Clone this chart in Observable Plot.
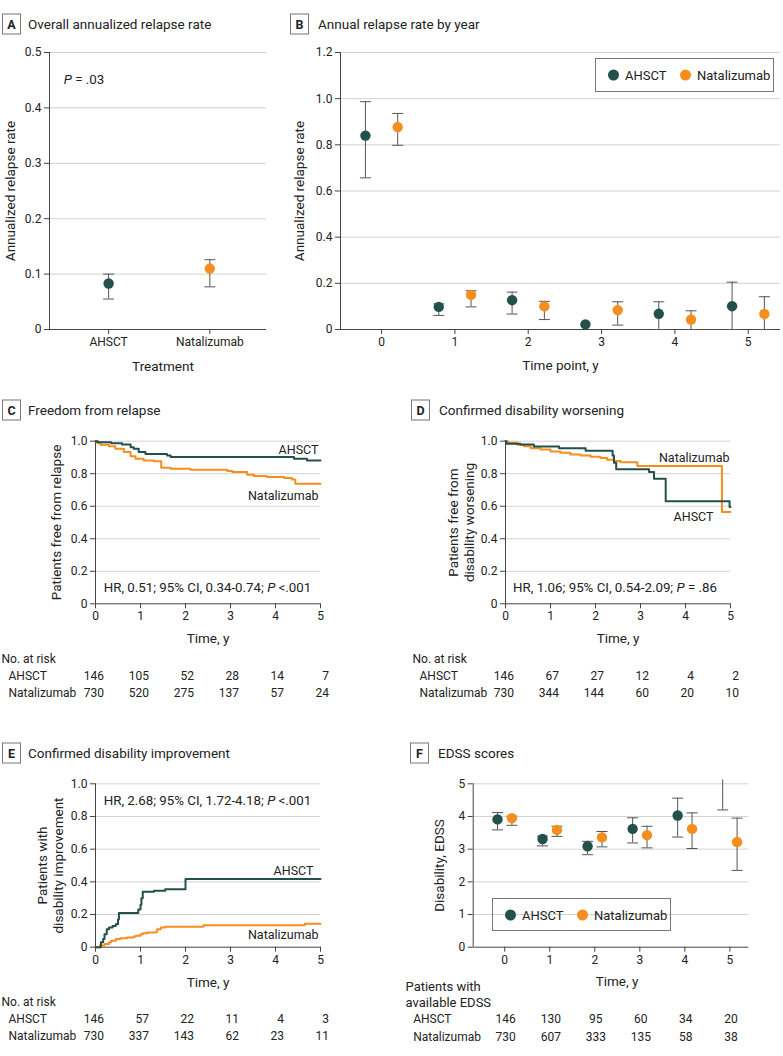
<!DOCTYPE html>
<html><head><meta charset="utf-8">
<script src="https://cdn.jsdelivr.net/npm/d3@7"></script>
<script src="https://cdn.jsdelivr.net/npm/@observablehq/plot@0.6"></script>
<style>
body{margin:0;background:#fff;font-family:Roboto,"Noto Sans",sans-serif;color:#222;}
#root{position:relative;width:783px;height:1056px;overflow:hidden;}
.svgwrap{position:absolute;}
.ttl{position:absolute;font-size:13.5px;white-space:nowrap;transform:translateY(-50%);}
.box{position:absolute;width:17px;height:19px;border:1px solid #777;font-weight:bold;font-size:12.5px;display:flex;align-items:center;justify-content:center;transform:translateY(-50%);}
.ann{position:absolute;font-size:13.3px;white-space:nowrap;transform:translate(-50%,-50%);}
.legend{position:absolute;border:1px solid #777;box-sizing:border-box;font-size:13px;}
.legend .d{display:inline-block;width:11px;height:11px;border-radius:50%;margin-right:6px;}
.legend span.it{display:flex;align-items:center;}
</style></head>
<body><div id="root"></div>
<script>
// ---------- DATA ----------
const groups = ["AHSCT", "Natalizumab"];
const colors = ["#22504b", "#f68d1f"];

// Panel A: overall annualized relapse rate
const arrRate = [0.083, 0.110];
const arrLo = [0.055, 0.077];
const arrHi = [0.100, 0.126];

// Panel B: annual relapse rate by year
const years = [0, 1, 2, 3, 4, 5];
const bAhsct = [0.840, 0.098, 0.127, 0.022, 0.068, 0.101];
const bAhsctLo = [0.657, 0.061, 0.067, null, 0, 0];
const bAhsctHi = [0.987, 0.111, 0.162, null, 0.120, 0.205];
const bNat = [0.877, 0.150, 0.100, 0.084, 0.043, 0.067];
const bNatLo = [0.798, 0.098, 0.043, 0.019, 0, 0];
const bNatHi = [0.936, 0.168, 0.122, 0.120, 0.081, 0.142];

// Panel C: freedom from relapse (time, proportion)
const cAhsct = [[0,1],[0.05,0.994],[0.35,0.987],[0.59,0.98],[0.78,0.963],[0.85,0.953],[0.96,0.933],[1.11,0.922],[1.59,0.912],[1.67,0.903],[4.41,0.892],[4.7,0.882],[5,0.882]];
const cNat = [[0,1],[0.03,0.99],[0.11,0.978],[0.3,0.969],[0.44,0.953],[0.63,0.933],[0.78,0.908],[0.89,0.892],[1.07,0.882],[1.3,0.876],[1.46,0.837],[1.67,0.831],[2.11,0.824],[2.93,0.816],[3.04,0.81],[3.37,0.794],[3.52,0.786],[3.81,0.78],[4.19,0.773],[4.37,0.765],[4.44,0.739],[5,0.739]];
const cRiskAhsct = [146, 105, 52, 28, 14, 7];
const cRiskNat = [730, 520, 275, 137, 57, 24];

// Panel D: confirmed disability worsening
const dAhsct = [[0,1],[0.02,0.985],[0.33,0.98],[0.63,0.967],[1.19,0.957],[1.78,0.941],[2.38,0.912],[2.41,0.867],[2.46,0.827],[3.19,0.81],[3.3,0.769],[3.56,0.631],[4.98,0.596],[5,0.596]];
const dNat = [[0,1],[0.05,0.99],[0.26,0.978],[0.41,0.969],[0.56,0.957],[0.78,0.949],[1.0,0.937],[1.22,0.929],[1.44,0.918],[1.67,0.912],[1.89,0.904],[2.11,0.896],[2.26,0.886],[2.41,0.878],[2.56,0.871],[2.93,0.847],[4.81,0.565],[5,0.565]];
const dRiskAhsct = [146, 67, 27, 12, 4, 2];
const dRiskNat = [730, 344, 144, 60, 20, 10];

// Panel E: confirmed disability improvement
const eAhsct = [[0,0],[0.12,0.03],[0.17,0.05],[0.2,0.08],[0.25,0.11],[0.3,0.12],[0.38,0.13],[0.45,0.14],[0.5,0.17],[0.52,0.21],[0.95,0.23],[1.0,0.26],[1.02,0.30],[1.05,0.34],[1.3,0.345],[1.55,0.355],[2.0,0.418],[5,0.418]];
const eNat = [[0,0],[0.1,0.01],[0.2,0.02],[0.3,0.03],[0.35,0.04],[0.45,0.05],[0.55,0.055],[0.7,0.06],[0.85,0.065],[0.9,0.07],[1.0,0.08],[1.05,0.085],[1.15,0.09],[1.35,0.095],[1.37,0.11],[1.45,0.12],[1.55,0.125],[2.4,0.135],[4.65,0.143],[5,0.143]];
const eRiskAhsct = [146, 57, 22, 11, 4, 3];
const eRiskNat = [730, 337, 143, 62, 23, 11];

// Panel F: EDSS scores
const fAhsct = [3.91, 3.31, 3.09, 3.62, 4.03, null];
const fAhsctLo = [3.59, 3.10, 2.83, 3.19, 3.37, 4.20];
const fAhsctHi = [4.12, 3.40, 3.24, 3.96, 4.56, 5.12];
const fNat = [3.95, 3.59, 3.36, 3.43, 3.62, 3.22];
const fNatLo = [3.73, 3.39, 3.07, 3.04, 3.02, 2.35];
const fNatHi = [4.01, 3.70, 3.54, 3.70, 4.11, 3.95];
const fNAhsct = [146, 130, 95, 60, 34, 20];
const fNNat = [730, 607, 333, 135, 58, 38];

const kmTicksX = [0, 1, 2, 3, 4, 5];
const kmTicksY = [0, 0.2, 0.4, 0.6, 0.8, 1.0];

// ---------- HELPERS ----------
const root = document.getElementById("root");
const AXIS = "#444", GRID = "#d2d2d2", ERR = "#555";
const TICK_FS = 12, TITLE_FS = 13.5, TABLE_FS = 12, LABEL_FS = 12.5;
const capSymbol = {draw(ctx, size) { const w = Math.sqrt(size / Math.PI); ctx.moveTo(-w, 0); ctx.lineTo(w, 0); }};
const fmt1 = d => d === 0 ? "0" : d.toFixed(1);

function place(svg, left, top) {
  const w = document.createElement("div");
  w.className = "svgwrap"; w.style.left = left + "px"; w.style.top = top + "px";
  w.appendChild(svg); root.appendChild(w);
}
function html(cls, text, x, y, extra) {
  const e = document.createElement("div");
  e.className = cls; e.innerHTML = text; e.style.left = x + "px"; e.style.top = y + "px";
  if (extra) Object.assign(e.style, extra);
  root.appendChild(e); return e;
}
function title(letter, text, boxX, textX, y) {
  html("box", letter, boxX, y); html("ttl", text, textX, y);
}
function legend(x, y, w, h, dotXs) {
  const e = html("legend", "", x, y, {width: w + "px", height: h + "px"});
  groups.forEach((g, i) => {
    const s = document.createElement("span");
    s.className = "it"; s.style.position = "absolute"; s.style.left = dotXs[i] + "px"; s.style.top = "50%"; s.style.transform = "translateY(-50%)";
    s.innerHTML = `<span class="d" style="background:${colors[i]}"></span>${g}`;
    e.appendChild(s);
  });
}
function frameMarks({xTicks, yTicks, yFmt, xFmt, xMin, yMin}) {
  return [
    Plot.gridY(yTicks.filter(v => v !== yMin), {stroke: GRID, strokeOpacity: 1}),
    Plot.axisY(yTicks, {tickFormat: yFmt, tickSize: 5, tickPadding: 3, label: null, stroke: AXIS, fontSize: TICK_FS}),
    Plot.axisX(xTicks, {tickFormat: xFmt, tickSize: 5, tickPadding: 3, label: null, stroke: AXIS, fontSize: TICK_FS}),
    Plot.ruleX([xMin], {stroke: AXIS}),
    Plot.ruleY([yMin], {stroke: AXIS})
  ];
}
function yTitle(text, dx) {
  return Plot.text([text], {text: d => d, frameAnchor: "left", textAnchor: "middle", lineAnchor: "middle", rotate: -90, dx, fontSize: TITLE_FS, lineHeight: 1.2, fill: "#222"});
}
function xTitle(text, dy, dx = 0) {
  return Plot.text([text], {text: d => d, frameAnchor: "bottom", lineAnchor: "middle", dy, dx, fontSize: TITLE_FS, fill: "#222"});
}
function rowLabel(text, dx, dy) {
  return Plot.text([text], {text: d => d, frameAnchor: "bottom-left", lineAnchor: "middle", dx, dy, textAnchor: "start", fontSize: TABLE_FS, fill: "#222"});
}
function riskRow(vals, dy, anchor, dx) {
  return Plot.text(vals, {x: (d, i) => kmTicksX[i], text: d => String(d), frameAnchor: "bottom", lineAnchor: "middle", dy, dx, textAnchor: anchor, fontSize: TABLE_FS, fill: "#222"});
}
function errMarks(rows, fill) {
  return [
    Plot.ruleX(rows.filter(r => r.lo != null), {x: "x", y1: "lo", y2: "hi", stroke: ERR, strokeWidth: 1}),
    Plot.dot(rows.filter(r => r.lo != null), {x: "x", y: "lo", symbol: capSymbol, r: 5.5, stroke: ERR, strokeWidth: 1}),
    Plot.dot(rows.filter(r => r.hi != null && r.hi <= 5.05), {x: "x", y: "hi", symbol: capSymbol, r: 5.5, stroke: ERR, strokeWidth: 1}),
    Plot.dot(rows.filter(r => r.v != null), {x: "x", y: "v", r: 5.2, fill, stroke: "none"})
  ];
}
const baseStyle = {fontFamily: "Roboto, 'Noto Sans', sans-serif", fontSize: TICK_FS + "px", color: "#222", overflow: "visible", background: "transparent"};

// ---------- PANEL A ----------
{
  const rows = groups.map((g, i) => ({x: i, v: arrRate[i], lo: arrLo[i], hi: arrHi[i], g}));
  const svg = Plot.plot({
    width: 270, height: 380, marginLeft: 49, marginRight: 4, marginTop: 52, marginBottom: 51,
    style: baseStyle,
    x: {type: "linear", domain: [-0.584, 1.56]},
    y: {domain: [0, 0.5]},
    marks: [
      ...frameMarks({xTicks: [0, 1], yTicks: [0, 0.1, 0.2, 0.3, 0.4, 0.5], yFmt: fmt1, xFmt: i => groups[i], xMin: -0.584, yMin: 0}),
      ...errMarks([rows[0]], colors[0]),
      ...errMarks([rows[1]], colors[1]),
      yTitle("Annualized relapse rate", -40),
      xTitle("Treatment", 37, 5)
    ]
  });
  place(svg, 0, 0);
  title("A", "Overall annualized relapse rate", 2, 28, 24);
  html("ann", "<i>P</i> = .03", 84, 79);
}

// ---------- PANEL B ----------
{
  const ra = years.map((t, i) => ({x: t - 0.22, v: bAhsct[i], lo: bAhsctLo[i], hi: bAhsctHi[i]}));
  const rn = years.map((t, i) => ({x: t + 0.22, v: bNat[i], lo: bNatLo[i], hi: bNatHi[i]}));
  const svg = Plot.plot({
    width: 503, height: 380, marginLeft: 60, marginRight: 3, marginTop: 52, marginBottom: 51,
    style: baseStyle,
    x: {domain: [-0.56, 5.44]},
    y: {domain: [0, 1.2]},
    marks: [
      ...frameMarks({xTicks: years, yTicks: [0, 0.2, 0.4, 0.6, 0.8, 1.0, 1.2], yFmt: fmt1, xFmt: d => d, xMin: -0.56, yMin: 0}),
      ...errMarks(ra, colors[0]),
      ...errMarks(rn, colors[1]),
      yTitle("Annualized relapse rate", -42),
      xTitle("Time point, y", 36)
    ]
  });
  place(svg, 280, 0);
  title("B", "Annual relapse rate by year", 290, 318, 24);
  legend(595, 58, 179, 34, [12, 84]);
}

// ---------- KM panels ----------
function kmPanel({left, top, width, height, mL, mR, mT, mB, a, n, yLabel, yDx, labels, riskA, riskN, header, hdx, rdx}) {
  const svg = Plot.plot({
    width, height, marginLeft: mL, marginRight: mR, marginTop: mT, marginBottom: mB,
    style: baseStyle,
    x: {domain: [0, 5]},
    y: {domain: [0, 1]},
    marks: [
      ...frameMarks({xTicks: kmTicksX, yTicks: kmTicksY, yFmt: fmt1, xFmt: d => d, xMin: 0, yMin: 0}),
      Plot.line(n, {x: d => d[0], y: d => d[1], curve: "step-after", stroke: colors[1], strokeWidth: 2}),
      Plot.line(a, {x: d => d[0], y: d => d[1], curve: "step-after", stroke: colors[0], strokeWidth: 2}),
      ...labels.map(l => Plot.text([l.t], {text: d => d, frameAnchor: "top-right", lineAnchor: "middle", dx: l.dx, dy: l.dy, textAnchor: "end", fontSize: LABEL_FS, fill: "#222"})),
      yTitle(yLabel, yDx),
      xTitle("Time, y", 35),
      rowLabel(header, hdx, 55),
      rowLabel("AHSCT", rdx, 72),
      rowLabel("Natalizumab", rdx, 89),
      riskRow(riskA, 72, "end", 8.5),
      riskRow(riskN, 89, "end", 8.5)
    ]
  });
  place(svg, left, top);
}

kmPanel({left: 0, top: 400, width: 330, height: 300, mL: 95, mR: 10, mT: 40.7, mB: 96.7,
  a: cAhsct, n: cNat, yLabel: "Patients free from relapse", yDx: -40,
  labels: [{t: "AHSCT", dx: -2, dy: 8.5}, {t: "Natalizumab", dx: -2, dy: 54.5}],
  riskA: cRiskAhsct, riskN: cRiskNat, header: "No. at risk", hdx: -94, rdx: -87});
title("C", "Freedom from relapse", 2, 28, 410);
html("ann", "HR, 0.51; 95% CI, 0.34-0.74; <i>P</i> &lt;.001", 207.5, 587);

kmPanel({left: 390, top: 400, width: 393, height: 300, mL: 115, mR: 53, mT: 40.7, mB: 96.7,
  a: dAhsct, n: dNat, yLabel: "Patients free from\ndisability worsening", yDx: -45,
  labels: [{t: "Natalizumab", dx: -1, dy: 16.5}, {t: "AHSCT", dx: -17, dy: 75.5}],
  riskA: dRiskAhsct, riskN: dRiskNat, header: "No. at risk", hdx: -93, rdx: -86});
title("D", "Confirmed disability worsening", 411, 439, 410);
html("ann", "HR, 1.06; 95% CI, 0.54-2.09; <i>P</i> = .86", 615, 587);

kmPanel({left: 0, top: 740, width: 330, height: 316, mL: 95, mR: 10, mT: 43.3, mB: 109.3,
  a: eAhsct, n: eNat, yLabel: "Patients with\ndisability improvement", yDx: -45.5,
  labels: [{t: "AHSCT", dx: -7, dy: 86.7}, {t: "Natalizumab", dx: -2, dy: 150.7}],
  riskA: eRiskAhsct, riskN: eRiskNat, header: "No. at risk", hdx: -94, rdx: -87});
title("E", "Confirmed disability improvement", 2, 28, 753);
html("ann", "HR, 2.68; 95% CI, 1.72-4.18; <i>P</i> &lt;.001", 207.5, 800);

// ---------- PANEL F ----------
{
  const ra = years.map((t, i) => ({x: t - 0.16, v: fAhsct[i], lo: fAhsctLo[i], hi: fAhsctHi[i]}));
  const rn = years.map((t, i) => ({x: t + 0.16, v: fNat[i], lo: fNatLo[i], hi: fNatHi[i]}));
  const svg = Plot.plot({
    width: 393, height: 316, marginLeft: 82.7, marginRight: 34.7, marginTop: 43.3, marginBottom: 109.3,
    style: baseStyle,
    x: {domain: [-0.7, 5.42]},
    y: {domain: [0, 5]},
    marks: [
      ...frameMarks({xTicks: years, yTicks: [0, 1, 2, 3, 4, 5], yFmt: d => d, xFmt: d => d, xMin: -0.7, yMin: 0}),
      ...errMarks(ra, colors[0]),
      ...errMarks(rn, colors[1]),
      yTitle("Disability, EDSS", -34.7),
      xTitle("Time, y", 34, 6),
      Plot.text(["Patients with\navailable EDSS"], {text: d => d, frameAnchor: "bottom-left", dx: -67.7, dy: 46.5, textAnchor: "start", lineAnchor: "middle", fontSize: 13, lineHeight: 1.25, fill: "#222"}),
      rowLabel("AHSCT", -60, 72),
      rowLabel("Natalizumab", -60, 90),
      riskRow(fNAhsct, 72, "middle", 1),
      riskRow(fNNat, 90, "middle", 1)
    ]
  });
  place(svg, 390, 740);
  title("F", "EDSS scores", 410, 438, 753);
  legend(492, 898, 179, 33, [12, 84]);
}
</script>
</body></html>
